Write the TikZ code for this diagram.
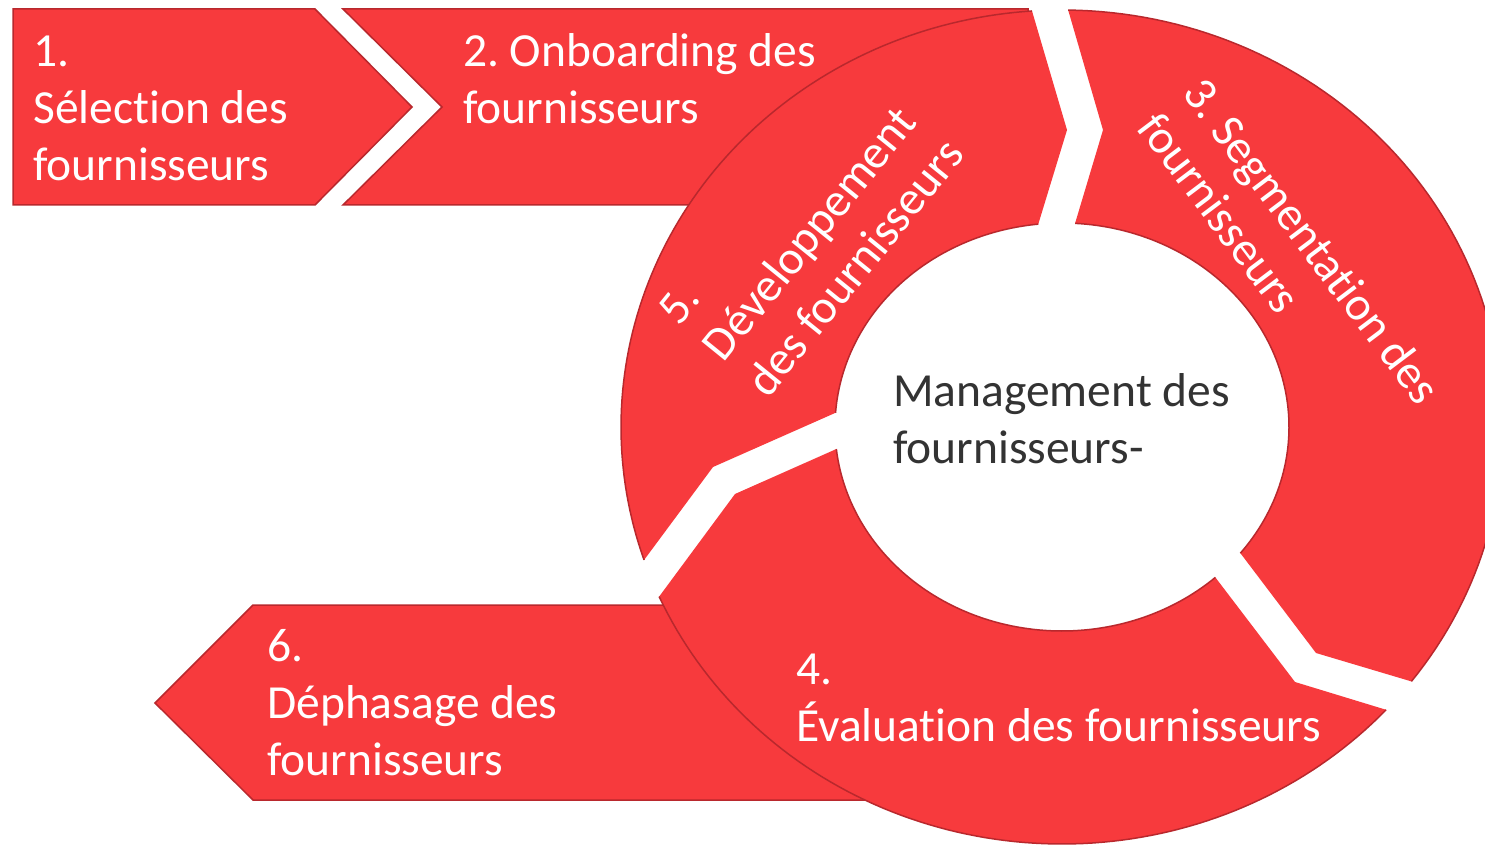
\documentclass[tikz,border=0pt]{standalone}
\usepackage{fontspec}
\setmainfont{Carlito}[Ligatures={NoCommon,NoRare,NoContextual}]
\definecolor{segred}{RGB}{247,58,61}
\definecolor{edgered}{RGB}{185,40,45}
\definecolor{darktext}{RGB}{51,51,51}
\frenchspacing
\begin{document}
\begin{tikzpicture}[x=1pt,y=-1pt,
  shapebox/.style={fill=segred,draw=edgered,line width=1.5pt,line join=miter},
  segfill/.style={fill=segred},
  segline/.style={draw=edgered,line width=1.5pt},
  lbl/.style={text=white,font=\fontsize{47.5}{57}\selectfont\frenchspacing,align=left,inner sep=0pt},
  centerlbl/.style={text=darktext,font=\fontsize{47.5}{57}\selectfont,align=left,inner sep=0pt}]
\useasboundingbox (0,0) rectangle (1485,845);
\clip (0,0) rectangle (1485,845);
\fill[white] (0,0) rectangle (1485,845);
\def\cx{1062}\def\cy{427}
% left shapes
\draw[shapebox] (13,9) -- (315,9) -- (412,107) -- (315,205) -- (13,205) -- cycle;
\draw[shapebox] (343,9) -- (1028,9) -- (1028,205) -- (343,205) -- (442,107) -- cycle;
\draw[shapebox] (253,605) -- (900,605) -- (900,800) -- (253,800) -- (155,703) -- cycle;
% ring segment 3
\fill[segfill] plot[domain=270.8:397.6,samples=90] ({\cx+441*cos(\x)},{\cy+417*sin(\x)})
  -- (1316,653)
  -- plot[domain=398.2:273.3,samples=90] ({\cx+227*cos(\x)},{\cy+204*sin(\x)})
  -- (1103,130) -- cycle;
% ring segment 4
\fill[segfill] plot[domain=42.7:156,samples=90] ({\cx+441*cos(\x)},{\cy+417*sin(\x)})
  -- (735,494)
  -- plot[domain=173.8:47.5,samples=90] ({\cx+227*cos(\x)},{\cy+204*sin(\x)})
  -- (1295,682) -- cycle;
% ring segment 5
\fill[segfill] plot[domain=161.4:266.1,samples=90] ({\cx+441*cos(\x)},{\cy+417*sin(\x)})
  -- (1067,130)
  -- plot[domain=264:184,samples=90] ({\cx+227*cos(\x)},{\cy+204*sin(\x)})
  -- (713,467) -- cycle;
% arc outlines
\draw[segline] plot[domain=270.8:397.6,samples=90] ({\cx+441*cos(\x)},{\cy+417*sin(\x)});
\draw[segline] plot[domain=273.3:398.2,samples=90] ({\cx+227*cos(\x)},{\cy+204*sin(\x)});
\draw[segline] plot[domain=42.7:156,samples=90] ({\cx+441*cos(\x)},{\cy+417*sin(\x)});
\draw[segline] plot[domain=47.5:173.8,samples=90] ({\cx+227*cos(\x)},{\cy+204*sin(\x)});
\draw[segline] plot[domain=161.4:266.1,samples=90] ({\cx+441*cos(\x)},{\cy+417*sin(\x)});
\draw[segline] plot[domain=184:264,samples=90] ({\cx+227*cos(\x)},{\cy+204*sin(\x)});
% texts
\node[lbl,anchor=base west] (t1) at (33,181) {1.\\Sélection des\\fournisseurs};
\node[lbl,anchor=base west] (t2) at (463,124) {2. Onboarding des\\fournisseurs};
\node[lbl,rotate=-53] (t3) at (1290,258) {3. Segmentation des\\fournisseurs};
\node[lbl,anchor=base west] (t4) at (796,741) {4.\\Évaluation des fournisseurs};
\node[lbl,rotate=51] (t5) at (811,232) {5.\\Développement\\des fournisseurs};
\node[lbl,anchor=base west] (t6) at (267,775) {6.\\Déphasage des\\fournisseurs};
\node[centerlbl,anchor=base west] (tc) at (893,463) {Management des\\fournisseurs-};
\end{tikzpicture}
\end{document}
